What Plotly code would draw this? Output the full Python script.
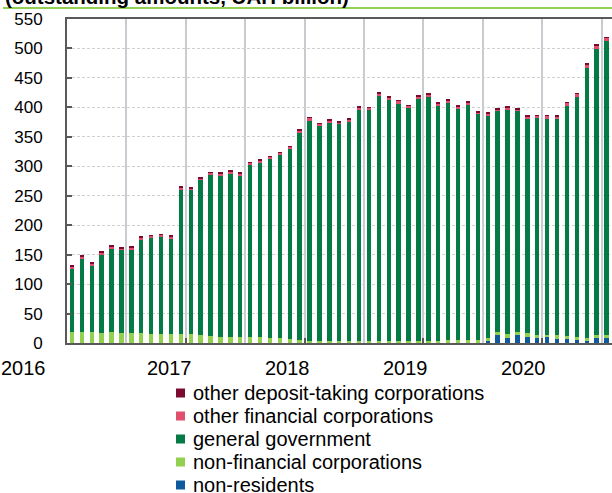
import plotly.graph_objects as go

# month index (Jan 2016 onward)
months = list(range(55))
year_labels = ["2016", "2017", "2018", "2019", "2020"]
year_label_pos = [-4.95, 9.9, 21.8, 33.7, 45.6]

non_residents = [0]*42 + [3.5, 13, 9, 14, 11, 9, 10, 7.5, 7, 4.5, 4, 8, 8.5]
non_financial = [18.5, 18.5, 18, 17.5, 18, 17, 17, 16.5, 16, 16, 15.5, 15, 14.5, 14, 11.5, 11,
                 10, 10, 10, 9.5, 9, 8, 6, 5,
                 4, 4, 4, 4, 4, 4, 4, 4, 4, 4, 4, 4, 4, 4, 4.5, 4.5, 5, 5,
                 5.5, 5, 6, 5, 5.5, 5, 3.5, 5.5, 5, 5.5, 4.5, 5, 4.5]
general_gov = [107.5, 124.5, 112, 132.5, 142, 141, 142, 159.5, 163, 165, 162.5, 245,
               244.5, 263, 274.5, 274, 278, 275, 293, 297.5, 304, 311, 323, 351,
               373, 364, 369, 367, 372, 392, 391, 415, 408, 402, 395, 411,
               413, 399, 403.5, 393.5, 399, 383, 377, 375, 381, 374, 364.5, 368,
               367.5, 367, 391, 408, 458.5, 486, 499]
other_financial = [4, 4, 5, 4, 3, 3, 3, 3, 3, 3, 3, 4, 4, 3, 3, 3, 3, 3, 3, 3, 3, 4, 4, 5,
                   5, 4, 5, 4, 4, 4, 4, 5, 5, 5, 4, 4, 5, 4, 4, 4, 4, 4, 4, 4, 4, 4, 4, 4,
                   5, 5, 5, 5, 6, 6, 6]
other_deposit = [1, 1, 1, 1, 2, 2, 1, 1, 1, 1, 2, 1, 1, 1, 1, 1, 1, 1, 1, 1, 1, 1, 1, 1,
                 1, 1, 1, 1, 1, 1, 1, 1, 1, 1, 1, 1, 1, 2, 1, 1, 2, 1, 1, 1, 1, 1, 1, 1,
                 1, 1, 1, 1, 1, 1, 1]

series = [
    ("non-residents", non_residents, "#0E5A9C"),
    ("non-financial corporations", non_financial, "#92D050"),
    ("general government", general_gov, "#047A45"),
    ("other financial corporations", other_financial, "#E0506C"),
    ("other deposit-taking corporations", other_deposit, "#7A0A30"),
]

FONT = "Arial, Liberation Sans, sans-serif"
L, T, W, H = 67, 19, 545, 324  # plot area in pixels


def px_x(p):
    return (p - L) / W


def px_y(p):
    return (T + H - p) / H


fig = go.Figure()
for name, vals, col in series:
    fig.add_trace(go.Bar(x=months, y=vals, name=name, marker=dict(color=col, line=dict(width=0)),
                         width=0.45, showlegend=False))

ann = []
for t, p in zip(year_labels, year_label_pos):
    if p < -0.5:
        ann.append(dict(x=px_x(23), y=px_y(367.5), xref="paper", yref="paper", text=t, showarrow=False,
                        xanchor="center", yanchor="middle", font=dict(size=20, color="#000", family=FONT)))
    else:
        ann.append(dict(x=p, y=px_y(367.5), xref="x", yref="paper", text=t, showarrow=False,
                        xanchor="center", yanchor="middle", font=dict(size=20, color="#000", family=FONT)))
ann.append(dict(x=px_x(3), y=1.068, xref="paper", yref="paper", xanchor="left", yanchor="middle",
                text="<b>(outstanding amounts, UAH billion)</b>", showarrow=False,
                font=dict(size=20.5, color="#000", family=FONT)))

shapes = [dict(type="line", xref="paper", yref="paper", x0=px_x(3), x1=1.0, y0=px_y(8), y1=px_y(8),
               line=dict(color="#92D050", width=2))]

# manual legend (top-to-bottom: reversed stacking order)
for i, (name, vals, col) in enumerate(reversed(series)):
    cy = 393 + 23 * i
    shapes.append(dict(type="rect", xref="paper", yref="paper",
                       x0=px_x(176), x1=px_x(185), y0=px_y(cy - 4.5), y1=px_y(cy + 4.5),
                       fillcolor=col, line=dict(width=0)))
    ann.append(dict(x=px_x(191), y=px_y(cy), xref="paper", yref="paper", xanchor="left", yanchor="middle",
                    text=name, showarrow=False, font=dict(size=20, color="#000", family=FONT)))

fig.update_layout(
    width=612, height=493,
    margin=dict(l=L, r=612 - L - W, t=T, b=493 - T - H, autoexpand=False),
    paper_bgcolor="white", plot_bgcolor="white",
    barmode="stack", bargap=0,
    font=dict(family=FONT, size=18, color="#000"),
    annotations=ann,
    shapes=shapes,
    showlegend=False,
)
fig.update_xaxes(range=[-0.5, 54.55], tickvals=[11.5, 23.5, 35.5, 47.5], ticks="inside", ticklen=5,
                 tickwidth=2, tickcolor="#595959", showticklabels=False,
                 showgrid=True, gridcolor="#C8CCD0", gridwidth=1.5,
                 minor=dict(tickvals=[5.5, 17.5, 29.5, 41.5, 53.5], showgrid=True, gridcolor="#C8CCD0",
                            gridwidth=1.5, ticks=""),
                 showline=True, linecolor="#595959", linewidth=2, mirror=True, zeroline=False)
fig.update_yaxes(range=[0, 550], dtick=50, ticks="inside", ticklen=5, tickwidth=2, tickcolor="#595959",
                 showgrid=True, gridcolor="#D0D0D0", gridwidth=1, griddash="3px,2px",
                 showline=True, linecolor="#595959", linewidth=2, zeroline=False,
                 ticklabelstandoff=19, tickfont=dict(size=17, color="#000", family=FONT))

fig.write_html("out.html", config={"displayModeBar": False},
               post_script="document.body.style.margin='0px';")
